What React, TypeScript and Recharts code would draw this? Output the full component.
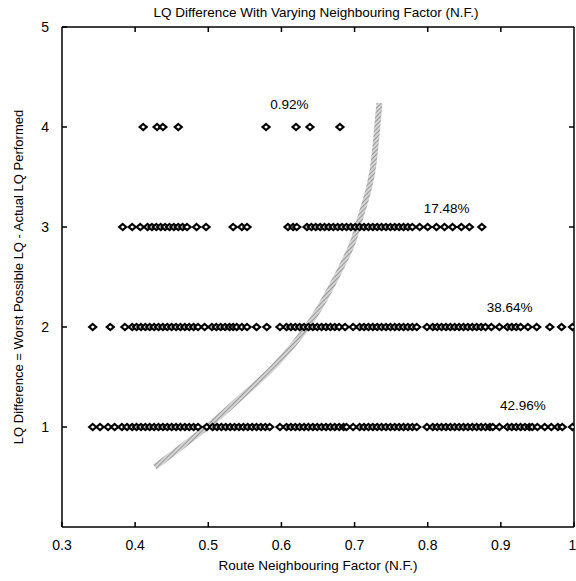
import React from "react";
import { ComposedChart, Scatter, Line, XAxis, YAxis, ReferenceDot, ReferenceLine } from "recharts";

// tick labels
const xTicks = [0.3, 0.4, 0.5, 0.6, 0.7, 0.8, 0.9, 1];
const yTicks = [1, 2, 3, 4, 5];

// route N.F. values for each LQ difference level
const lq4 = [0.411, 0.43, 0.438, 0.459, 0.579, 0.62, 0.639, 0.68];
const lq3 = [
    0.383, 0.396, 0.407, 0.417, 0.423, 0.429, 0.435, 0.441, 0.447, 0.453, 0.459, 0.465, 0.471, 0.484, 0.497,
    0.534, 0.546, 0.553, 0.609, 0.616, 0.621, 0.635, 0.641, 0.647, 0.653, 0.659, 0.665, 0.671, 0.677, 0.683,
    0.689, 0.695, 0.701, 0.707, 0.713, 0.719, 0.725, 0.731, 0.737, 0.743, 0.749, 0.755, 0.761, 0.767, 0.773,
    0.779, 0.789, 0.8, 0.812, 0.823, 0.834, 0.846, 0.857, 0.874,
];
const lq2 = [
    0.342, 0.366, 0.386, 0.396, 0.402, 0.408, 0.414, 0.42, 0.426, 0.432, 0.438, 0.444, 0.45, 0.456, 0.462,
    0.468, 0.474, 0.48, 0.486, 0.495, 0.505, 0.511, 0.517, 0.523, 0.529, 0.534, 0.539, 0.546, 0.553, 0.566,
    0.58, 0.598, 0.607, 0.613, 0.619, 0.625, 0.631, 0.637, 0.643, 0.649, 0.655, 0.661, 0.667, 0.673, 0.679,
    0.687, 0.698, 0.707, 0.713, 0.719, 0.725, 0.731, 0.737, 0.743, 0.749, 0.755, 0.761, 0.767, 0.773, 0.779,
    0.785, 0.799, 0.807, 0.813, 0.819, 0.825, 0.831, 0.837, 0.843, 0.849, 0.855, 0.861, 0.867, 0.873, 0.879,
    0.887, 0.898, 0.909, 0.915, 0.921, 0.927, 0.937, 0.949, 0.967, 0.983, 0.998,
];
const lq1 = [
    0.342, 0.352, 0.363, 0.372, 0.382, 0.389, 0.396, 0.402, 0.408, 0.414, 0.42, 0.426, 0.432, 0.438, 0.444,
    0.45, 0.456, 0.462, 0.468, 0.474, 0.48, 0.486, 0.498, 0.506, 0.512, 0.518, 0.524, 0.53, 0.536, 0.542,
    0.548, 0.554, 0.56, 0.566, 0.572, 0.578, 0.584, 0.598, 0.607, 0.613, 0.619, 0.625, 0.631, 0.637, 0.643,
    0.649, 0.655, 0.661, 0.667, 0.673, 0.679, 0.685, 0.689, 0.698, 0.707, 0.713, 0.719, 0.725, 0.731, 0.737,
    0.743, 0.749, 0.755, 0.761, 0.767, 0.773, 0.779, 0.785, 0.799, 0.807, 0.813, 0.819, 0.825, 0.831, 0.837,
    0.843, 0.849, 0.855, 0.861, 0.867, 0.873, 0.879, 0.885, 0.889, 0.898, 0.909, 0.915, 0.921, 0.927, 0.933,
    0.939, 0.943, 0.95, 0.96, 0.969, 0.978, 0.984, 0.998,
];

// gray trend curve
const curveX = [0.427, 0.498, 0.545, 0.589, 0.635, 0.668, 0.695, 0.704, 0.719, 0.727, 0.731, 0.734];
const curveY = [0.6, 1.0, 1.3, 1.6, 2.0, 2.4, 2.8, 3.0, 3.37, 3.7, 4.0, 4.24];

// percentage notes
const noteText = ["0.92%", "17.48%", "38.64%", "42.96%"];
const noteX = [0.611, 0.826, 0.912, 0.93];
const noteY = [4.23, 3.19, 2.2, 1.22];

const row = (xs: number[], y: number) => xs.map((x) => ({ x, y }));
const curve = curveX.map((x, i) => ({ x, y: curveY[i] }));

const font = "'Liberation Sans', Arial, Helvetica, sans-serif";

const Diamond = (props: any) => {
    const { cx, cy } = props;
    if (cx == null || cy == null) return null;
    return (
        <polygon
            points={`${cx},${cy - 3} ${cx + 3.5},${cy} ${cx},${cy + 3} ${cx - 3.5},${cy}`}
            fill="#fff"
            stroke="#000"
            strokeWidth={2.2}
        />
    );
};

const frame = { stroke: "#000", strokeWidth: 1.5 };

export default function App() {
    return (
        <div style={{ position: "absolute", left: 0, top: 0, width: 576, height: 581, background: "#fff", fontFamily: font }}>
            <div style={{ position: "absolute", left: 316, top: 5, transform: "translateX(-50%)", fontSize: 13.5, whiteSpace: "nowrap" }}>
                LQ Difference With Varying Neighbouring Factor (N.F.)
            </div>
            <div style={{ position: "absolute", left: 318, top: 558, transform: "translateX(-50%)", fontSize: 13.5, whiteSpace: "nowrap" }}>
                Route Neighbouring Factor (N.F.)
            </div>
            <div
                style={{
                    position: "absolute",
                    left: 18,
                    top: 277,
                    transform: "translate(-50%, -50%) rotate(-90deg)",
                    fontSize: 13,
                    whiteSpace: "nowrap",
                }}
            >
                LQ Difference = Worst Possible LQ - Actual LQ Performed
            </div>
            <ComposedChart width={576} height={581} margin={{ top: 27, right: 2, bottom: 14, left: 30 }}>
                <defs>
                    <pattern id="hatch" width="3" height="3" patternUnits="userSpaceOnUse" patternTransform="rotate(45)">
                        <rect width="3" height="3" fill="#d4d4d4" />
                        <line x1="0" y1="0" x2="0" y2="3" stroke="#7a7a7a" strokeWidth="1.3" />
                    </pattern>
                </defs>
                <XAxis
                    dataKey="x"
                    type="number"
                    domain={[0.3, 1]}
                    ticks={xTicks}
                    allowDataOverflow
                    height={40}
                    tickSize={-5}
                    tickMargin={18}
                    tickLine={frame}
                    axisLine={frame}
                    tickFormatter={(v: number) => (v === 1 ? "1" : v.toFixed(1))}
                    tick={{ fill: "#000", fontSize: 14, fontFamily: font }}
                />
                <XAxis xAxisId="tm" type="number" domain={[0.3, 1]} orientation="top" mirror tick={false} tickLine={false} axisLine={frame} />
                <YAxis
                    dataKey="y"
                    type="number"
                    domain={[0, 5]}
                    ticks={yTicks}
                    allowDataOverflow
                    width={32}
                    tickSize={-5}
                    tickMargin={18}
                    tickLine={frame}
                    axisLine={frame}
                    tick={{ fill: "#000", fontSize: 14, fontFamily: font }}
                />
                <YAxis yAxisId="rm" type="number" domain={[0, 5]} orientation="right" mirror tick={false} tickLine={false} axisLine={frame} />
                {/* inward ticks on the top and right frame */}
                {xTicks.slice(1, -1).map((t) => (
                    <ReferenceLine key={`t${t}`} segment={[{ x: t, y: 5 }, { x: t, y: 4.95 }]} stroke="#000" strokeWidth={1.5} />
                ))}
                {yTicks.slice(0, -1).map((t) => (
                    <ReferenceLine key={`r${t}`} segment={[{ x: 1, y: t }, { x: 0.9932, y: t }]} stroke="#000" strokeWidth={1.5} />
                ))}
                <Scatter data={row(lq4, 4)} shape={Diamond} isAnimationActive={false} />
                <Scatter data={row(lq3, 3)} shape={Diamond} isAnimationActive={false} />
                <Scatter data={row(lq2, 2)} shape={Diamond} isAnimationActive={false} />
                <Scatter data={row(lq1, 1)} shape={Diamond} isAnimationActive={false} />
                <Line
                    data={curve}
                    dataKey="y"
                    type="natural"
                    stroke="url(#hatch)"
                    strokeWidth={6}
                    dot={false}
                    activeDot={false}
                    isAnimationActive={false}
                />
                {noteText.map((t, i) => (
                    <ReferenceDot
                        key={t}
                        x={noteX[i]}
                        y={noteY[i]}
                        r={0}
                        stroke="none"
                        fill="none"
                        label={{ value: t, position: "center", fill: "#000", fontSize: 13.5, fontFamily: font }}
                    />
                ))}
            </ComposedChart>
        </div>
    );
}
